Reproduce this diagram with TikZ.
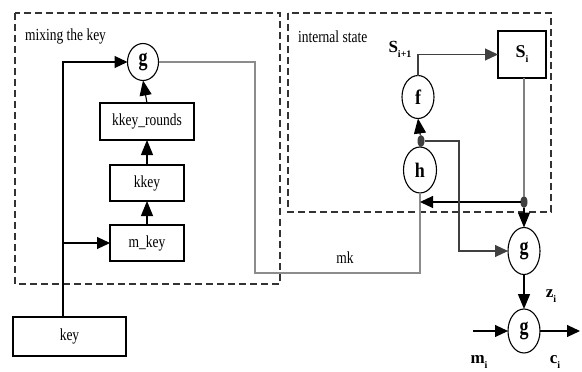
\documentclass[tikz,border=0pt]{standalone}
\usepackage{fontspec}
\setmainfont{Liberation Serif}
\usetikzlibrary{arrows.meta,shapes.geometric}
\newcommand\ysc[2]{\scalebox{1}[#1]{#2}}
\newcommand\bsub[1]{\raisebox{-5pt}{\fontsize{10}{10}\selectfont\bfseries #1}}
\begin{document}
\begin{tikzpicture}[x=1pt,y=-1pt,
  every node/.style={inner sep=0pt, outer sep=0pt},
  lab/.style={font=\fontsize{13.5}{14}\selectfont},
  blk/.style={draw, line width=1.1pt, lab},
  op/.style={draw, ellipse, line width=1.1pt, font=\fontsize{18}{18}\selectfont\bfseries},
  bl/.style={font=\fontsize{17}{17}\selectfont\bfseries},
  dotn/.style={fill=black!75, ellipse, minimum width=7pt, minimum height=12pt},
  frame/.style={draw, dash pattern=on 7pt off 4pt, line width=1.1pt, color=black!80},
  con/.style={line width=1.1pt},
  arr/.style={con, -{Triangle[length=13pt,width=12pt]}},
  varr/.style={con, -{Triangle[length=15pt,width=12pt]}}]
\useasboundingbox (0,0) rectangle (582,372);
% frames
\draw[frame] (15,13) rectangle (280,284);
\draw[frame] (288,13) rectangle (551,212);
\node[lab, anchor=west] (tmix) at (25,36) {\ysc{1.25}{mixing the key}};
\node[lab, anchor=west] (tint) at (298,37) {\ysc{1.25}{internal state}};
% left part
\node[op, minimum width=31pt, minimum height=37pt] (gmix) at (143,62) {\ysc{1.35}{g}};
\node[blk, minimum width=94pt, minimum height=37pt] (kr) at (147,121.5) {\ysc{1.25}{kkey\_rounds}};
\node[blk, minimum width=74pt, minimum height=36pt] (kk) at (147,183) {\ysc{1.25}{kkey}};
\node[blk, minimum width=74pt, minimum height=36pt] (mkey) at (147,243) {\ysc{1.25}{m\_key}};
\node[blk, minimum width=113pt, minimum height=39pt] (key) at (69.5,336.5) {\ysc{1.25}{key}};
% right part
\node[blk, minimum width=48pt, minimum height=47pt] (Si) at (522,54.5) {\bfseries\fontsize{18}{18}\selectfont S\bsub{i}};
\node[op, minimum width=32pt, minimum height=43pt] (f) at (418,97) {\ysc{1.15}{f}};
\node[op, minimum width=33pt, minimum height=46pt] (h) at (420,170) {\ysc{1.15}{h}};
\node[dotn] (dot1) at (421,141) {};
\node[dotn] (dot2) at (524,202) {};
\node[op, minimum width=32pt, minimum height=47pt] (g2) at (524,251) {\ysc{1.35}{g}};
\node[op, minimum width=32pt, minimum height=44pt] (g3) at (524,331) {\ysc{1.35}{g}};
\node[bl] (sip1) at (400,49) {S\bsub{i+1}};
\node[bl] (zi) at (551,296) {z\bsub{i}};
\node[bl] (mi) at (479,362) {m\bsub{i}};
\node[bl] (ci) at (555,362) {c\bsub{i}};
\node[lab] (mk) at (345,258) {\ysc{1.25}{mk}};
% coordinates
\coordinate (kt) at (63,317);
\coordinate (mkc) at (255,273);
\coordinate (r1) at (459,141);
\coordinate (min) at (473,331);
\coordinate (cout) at (580,331);
% connectors left
\draw[arr] (kt) |- (gmix.west);
\draw[arr] (kt |- mkey.west) -- (mkey.west);
\draw[varr] (mkey.north) -- (kk.south);
\draw[varr] (kk.north) -- (kr.south);
\draw[varr] (kr.north) -- (gmix.south);
\draw[con, color=black!45] (gmix.east) -| (mkc) -| (h.south);
% connectors right
\draw[arr, color=black!75] (f.north) |- (Si.west);
\draw[con, color=black!50] (Si.south -| dot2) -- (dot2);
\draw[varr] (dot2) -- (g2.north);
\draw[arr] (dot2) -- (dot2 -| h.south);
\draw[con] (h.north) -- (dot1);
\draw[varr] (dot1) -- (f.south);
\draw[arr, color=black!75] (dot1) -- (r1) |- (g2.west);
\draw[varr, line width=1.6pt] (g2.south) -- (g3.north);
\draw[arr] (min) -- (g3.west);
\draw[arr] (g3.east) -- (cout);
\end{tikzpicture}
\end{document}
